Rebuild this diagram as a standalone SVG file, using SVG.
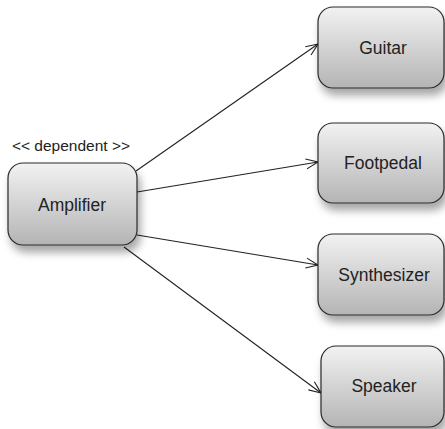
<svg xmlns="http://www.w3.org/2000/svg" width="445" height="429" viewBox="0 0 445 429">
  <defs>
    <linearGradient id="nodeFill" x1="0" y1="0" x2="0" y2="1">
      <stop offset="0" stop-color="#f2f2f2"/>
      <stop offset="1" stop-color="#b4b4b4"/>
    </linearGradient>
    <filter id="shadow" x="-20%" y="-20%" width="150%" height="160%">
      <feGaussianBlur in="SourceAlpha" stdDeviation="4"/>
      <feOffset dx="3" dy="7" result="b"/>
      <feComponentTransfer><feFuncA type="linear" slope="0.35"/></feComponentTransfer>
      <feMerge><feMergeNode/><feMergeNode in="SourceGraphic"/></feMerge>
    </filter>
    <marker id="open" viewBox="0 0 14 12" refX="13" refY="6" markerWidth="14" markerHeight="12" markerUnits="userSpaceOnUse" orient="auto">
      <path d="M1,1 L13,6 L1,11" fill="none" stroke="#222" stroke-width="1.1"/>
    </marker>
    <style>
      .node rect { fill: url(#nodeFill); stroke: #2a2a2a; stroke-width: 1.2; filter: url(#shadow); }
      .node text { font-family: "Liberation Sans", Arial, sans-serif; fill: #222; font-size: 17.5px; text-anchor: middle; }
      .node text.stereo { font-size: 15.5px; }
      .edge { stroke: #222; stroke-width: 1.1; fill: none; marker-end: url(#open); }
    </style>
  </defs>

  <g id="connectors">
    <line class="edge" x1="136" y1="171" x2="318" y2="44"/>
    <line class="edge" x1="137" y1="192" x2="318" y2="162"/>
    <line class="edge" x1="137" y1="235" x2="318" y2="265"/>
    <line class="edge" x1="124" y1="247" x2="321" y2="393"/>
  </g>

  <g id="amplifier" class="node">
    <text class="stereo" x="71" y="151">&lt;&lt; dependent &gt;&gt;</text>
    <rect x="8" y="163" width="129" height="82" rx="15"/>
    <text x="72" y="211">Amplifier</text>
  </g>
  <g id="guitar" class="node">
    <rect x="318" y="7" width="126" height="81" rx="15"/>
    <text x="383" y="54">Guitar</text>
  </g>
  <g id="footpedal" class="node">
    <rect x="318" y="123" width="126" height="80" rx="15"/>
    <text x="383" y="169">Footpedal</text>
  </g>
  <g id="synthesizer" class="node">
    <rect x="318" y="234" width="126" height="81" rx="15"/>
    <text x="384" y="281">Synthesizer</text>
  </g>
  <g id="speaker" class="node">
    <rect x="321" y="346" width="123" height="81" rx="15"/>
    <text x="384" y="392">Speaker</text>
  </g>
</svg>
